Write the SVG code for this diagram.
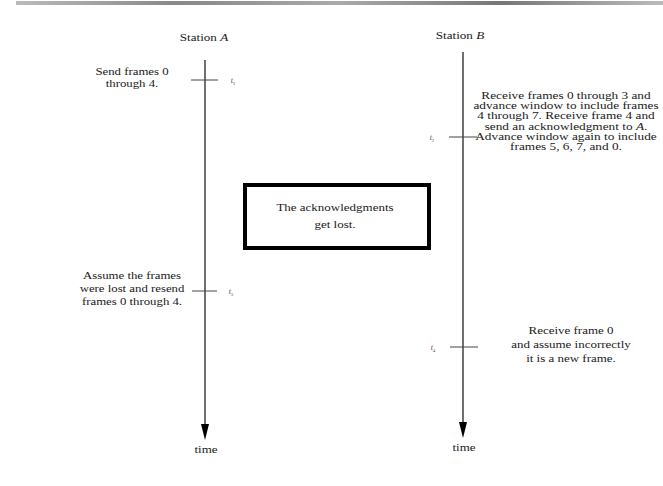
<svg xmlns="http://www.w3.org/2000/svg" width="663" height="486" viewBox="0 0 663 486">
  <style>
    .t { font-family: "Liberation Serif", "Times New Roman", serif; font-size: 10px; fill: #1a1a1a; text-anchor: middle; }
    .lbl { font-family: "Liberation Serif", "Times New Roman", serif; font-size: 8px; font-style: italic; fill: #555; text-anchor: middle; }
    .sub { font-size: 5px; font-style: normal; }
    .axis { stroke: #333; stroke-width: 1.4; fill: none; }
    .tick { stroke: #444; stroke-width: 1; }
    .box { fill: #fff; stroke: #000; stroke-width: 4; }
  </style>
  <defs>
    <linearGradient id="scan" x1="0" x2="1" y1="0" y2="0">
      <stop offset="0" stop-color="#bbb"/>
      <stop offset="0.25" stop-color="#888"/>
      <stop offset="0.5" stop-color="#aaa"/>
      <stop offset="0.75" stop-color="#777"/>
      <stop offset="1" stop-color="#bbb"/>
    </linearGradient>
    <marker id="arrow" viewBox="0 0 8 16" refX="4" refY="16" markerWidth="8" markerHeight="16" markerUnits="userSpaceOnUse" orient="auto-start-reverse">
      <path d="M0,0 L8,0 L4,16 Z" fill="#000"/>
    </marker>
  </defs>

  <rect x="16" y="1" width="647" height="4" fill="url(#scan)"/>

  <g id="connectors">
    <line class="axis" x1="205" y1="60" x2="205" y2="424" marker-end="url(#arrowA)"/>
    <polygon points="201,424 209,424 205,440" fill="#000"/>
    <line class="axis" x1="463" y1="52" x2="463" y2="422"/>
    <polygon points="459,422 467,422 463,438" fill="#000"/>
    <line class="tick" x1="191" y1="80" x2="218" y2="80"/>
    <line class="tick" x1="449" y1="137" x2="477" y2="137"/>
    <line class="tick" x1="192" y1="291" x2="217" y2="291"/>
    <line class="tick" x1="450" y1="347" x2="478" y2="347"/>
  </g>

  <g id="stationA">
    <text class="t" transform="translate(204 41) scale(1.25 1)" x="0" y="0" style="font-size:10.5px">Station <tspan font-style="italic">A</tspan></text>
  </g>
  <g id="stationB">
    <text class="t" transform="translate(460 39) scale(1.25 1)" x="0" y="0" style="font-size:10.5px">Station <tspan font-style="italic">B</tspan></text>
  </g>

  <g id="t1">
    <text class="lbl" x="233" y="83">t<tspan class="sub" dy="1.5">1</tspan></text>
    <g transform="translate(132 0) scale(1.28 1)">
      <text class="t" x="0" y="75">Send frames 0</text>
      <text class="t" x="0" y="87">through 4.</text>
    </g>
  </g>

  <g id="t2">
    <text class="lbl" x="432" y="140">t<tspan class="sub" dy="1.5">2</tspan></text>
    <g transform="translate(566 0) scale(1.33 1)">
      <text class="t" x="0" y="99">Receive frames 0 through 3 and</text>
      <text class="t" x="0" y="109">advance window to include frames</text>
      <text class="t" x="0" y="119">4 through 7. Receive frame 4 and</text>
      <text class="t" x="0" y="130">send an acknowledgment to <tspan font-style="italic">A</tspan>.</text>
      <text class="t" x="0" y="140">Advance window again to include</text>
      <text class="t" x="0" y="150">frames 5, 6, 7, and 0.</text>
    </g>
  </g>

  <g id="lost">
    <rect class="box" x="245" y="185" width="184" height="63"/>
    <g transform="translate(335 0) scale(1.3 1)">
      <text class="t" x="0" y="211">The acknowledgments</text>
      <text class="t" x="0" y="228">get lost.</text>
    </g>
  </g>

  <g id="t3">
    <text class="lbl" x="231" y="294">t<tspan class="sub" dy="1.5">3</tspan></text>
    <g transform="translate(132 0) scale(1.28 1)">
      <text class="t" x="0" y="279">Assume the frames</text>
      <text class="t" x="0" y="292">were lost and resend</text>
      <text class="t" x="0" y="305">frames 0 through 4.</text>
    </g>
  </g>

  <g id="t4">
    <text class="lbl" x="433" y="350">t<tspan class="sub" dy="1.5">4</tspan></text>
    <g transform="translate(571 0) scale(1.3 1)">
      <text class="t" x="0" y="334">Receive frame 0</text>
      <text class="t" x="0" y="348">and assume incorrectly</text>
      <text class="t" x="0" y="362">it is a new frame.</text>
    </g>
  </g>

  <g id="timeA">
    <text class="t" transform="translate(206 453) scale(1.3 1)" x="0" y="0">time</text>
  </g>
  <g id="timeB">
    <text class="t" transform="translate(464 451) scale(1.3 1)" x="0" y="0">time</text>
  </g>
</svg>
